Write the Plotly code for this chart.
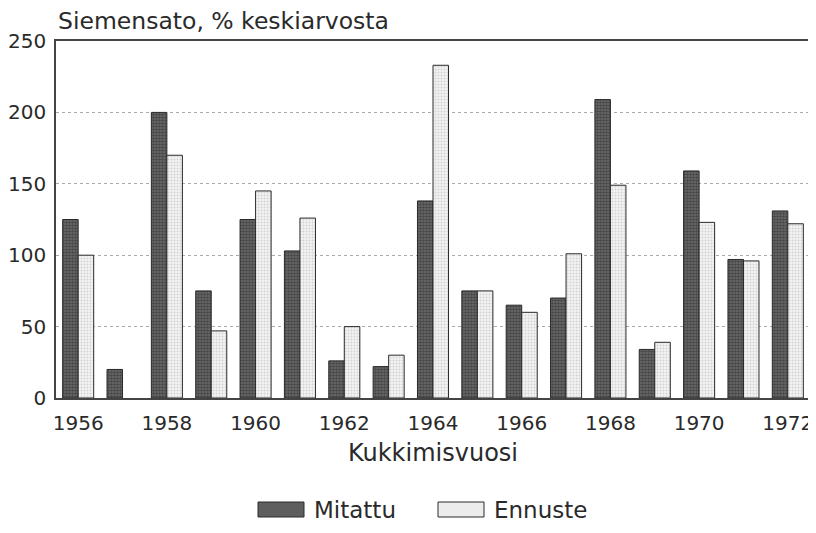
import plotly.graph_objects as go

# Kukkimisvuosi vs. siemensato (% keskiarvosta)
years = list(range(1956, 1973))
mitattu = [125, 20, 200, 75, 125, 103, 26, 22, 138, 75, 65, 70, 209, 34, 159, 97, 131]
ennuste = [100, None, 170, 47, 145, 126, 50, 30, 233, 75, 60, 101, 149, 39, 123, 96, 122]
tick_years = list(range(1956, 1973, 2))
series_names = ["Mitattu", "Ennuste"]

FONT = "DejaVu Sans"
INK = "#2a2a2a"
OFF = 8  # page body margin, the figure lands 8px right and down
W, H = 816 - OFF, 533 - OFF
L, R, T, B = 56 - OFF, 6, 41 - OFF, 135

fig = go.Figure()
fig.add_trace(
    go.Bar(
        x=years,
        y=mitattu,
        name=series_names[0],
        marker=dict(
            color="#6e6e6e",
            line=dict(color=INK, width=1),
            pattern=dict(shape=".", fgcolor="#1e1e1e", size=3, solidity=0.6),
        ),
    )
)
fig.add_trace(
    go.Bar(
        x=years,
        y=ennuste,
        name=series_names[1],
        marker=dict(
            color="#f4f4f4",
            line=dict(color=INK, width=1),
            pattern=dict(shape=".", fgcolor="#b0b0b0", size=3, solidity=0.35),
        ),
    )
)


# helpers: page pixels -> paper coords
def px_x(v):
    return (v - OFF - L) / (W - L - R)


def px_y(v):
    return (H - B - (v - OFF)) / (H - T - B)


shapes = []
annots = [
    dict(
        text="Siemensato, % keskiarvosta",
        xref="paper",
        yref="paper",
        x=px_x(56),
        y=px_y(21),
        xanchor="left",
        yanchor="middle",
        showarrow=False,
        font=dict(size=23.5, color=INK),
    )
]
# legend drawn by hand: big swatches like the original
swatches = [(258, 304, "#5e5e5e"), (438, 484, "#ececec")]
for (x0, x1, col), name in zip(swatches, series_names):
    shapes.append(
        dict(
            type="rect",
            xref="paper",
            yref="paper",
            x0=px_x(x0),
            x1=px_x(x1),
            y0=px_y(502),
            y1=px_y(517),
            fillcolor=col,
            line=dict(color=INK, width=1),
        )
    )
    annots.append(
        dict(
            text=name,
            xref="paper",
            yref="paper",
            x=px_x(x1 + 8),
            y=px_y(510),
            xanchor="left",
            yanchor="middle",
            showarrow=False,
            font=dict(size=23, color=INK),
        )
    )

fig.update_layout(
    width=W,
    height=H,
    barmode="group",
    bargap=0.3,
    bargroupgap=0,
    plot_bgcolor="white",
    paper_bgcolor="white",
    margin=dict(l=L, r=R, t=T, b=B),
    font=dict(family=FONT, size=20, color=INK),
    showlegend=False,
    shapes=shapes,
    annotations=annots,
)

fig.update_xaxes(
    range=[1955.5, 1972.5],
    tickvals=tick_years,
    ticks="",
    ticklabelstandoff=6,
    showgrid=False,
    showline=True,
    linecolor="#444444",
    linewidth=1.5,
    mirror=True,
    automargin=False,
    title=dict(text="Kukkimisvuosi", standoff=10, font=dict(size=24)),
)
fig.update_yaxes(
    range=[0, 250],
    dtick=50,
    ticks="",
    ticklabelstandoff=4,
    showgrid=True,
    gridcolor="#aaaaaa",
    griddash="dot",
    gridwidth=1,
    zeroline=False,
    showline=True,
    linecolor="#444444",
    linewidth=1.5,
    mirror=True,
    automargin=False,
)

fig.write_html("out.html")
